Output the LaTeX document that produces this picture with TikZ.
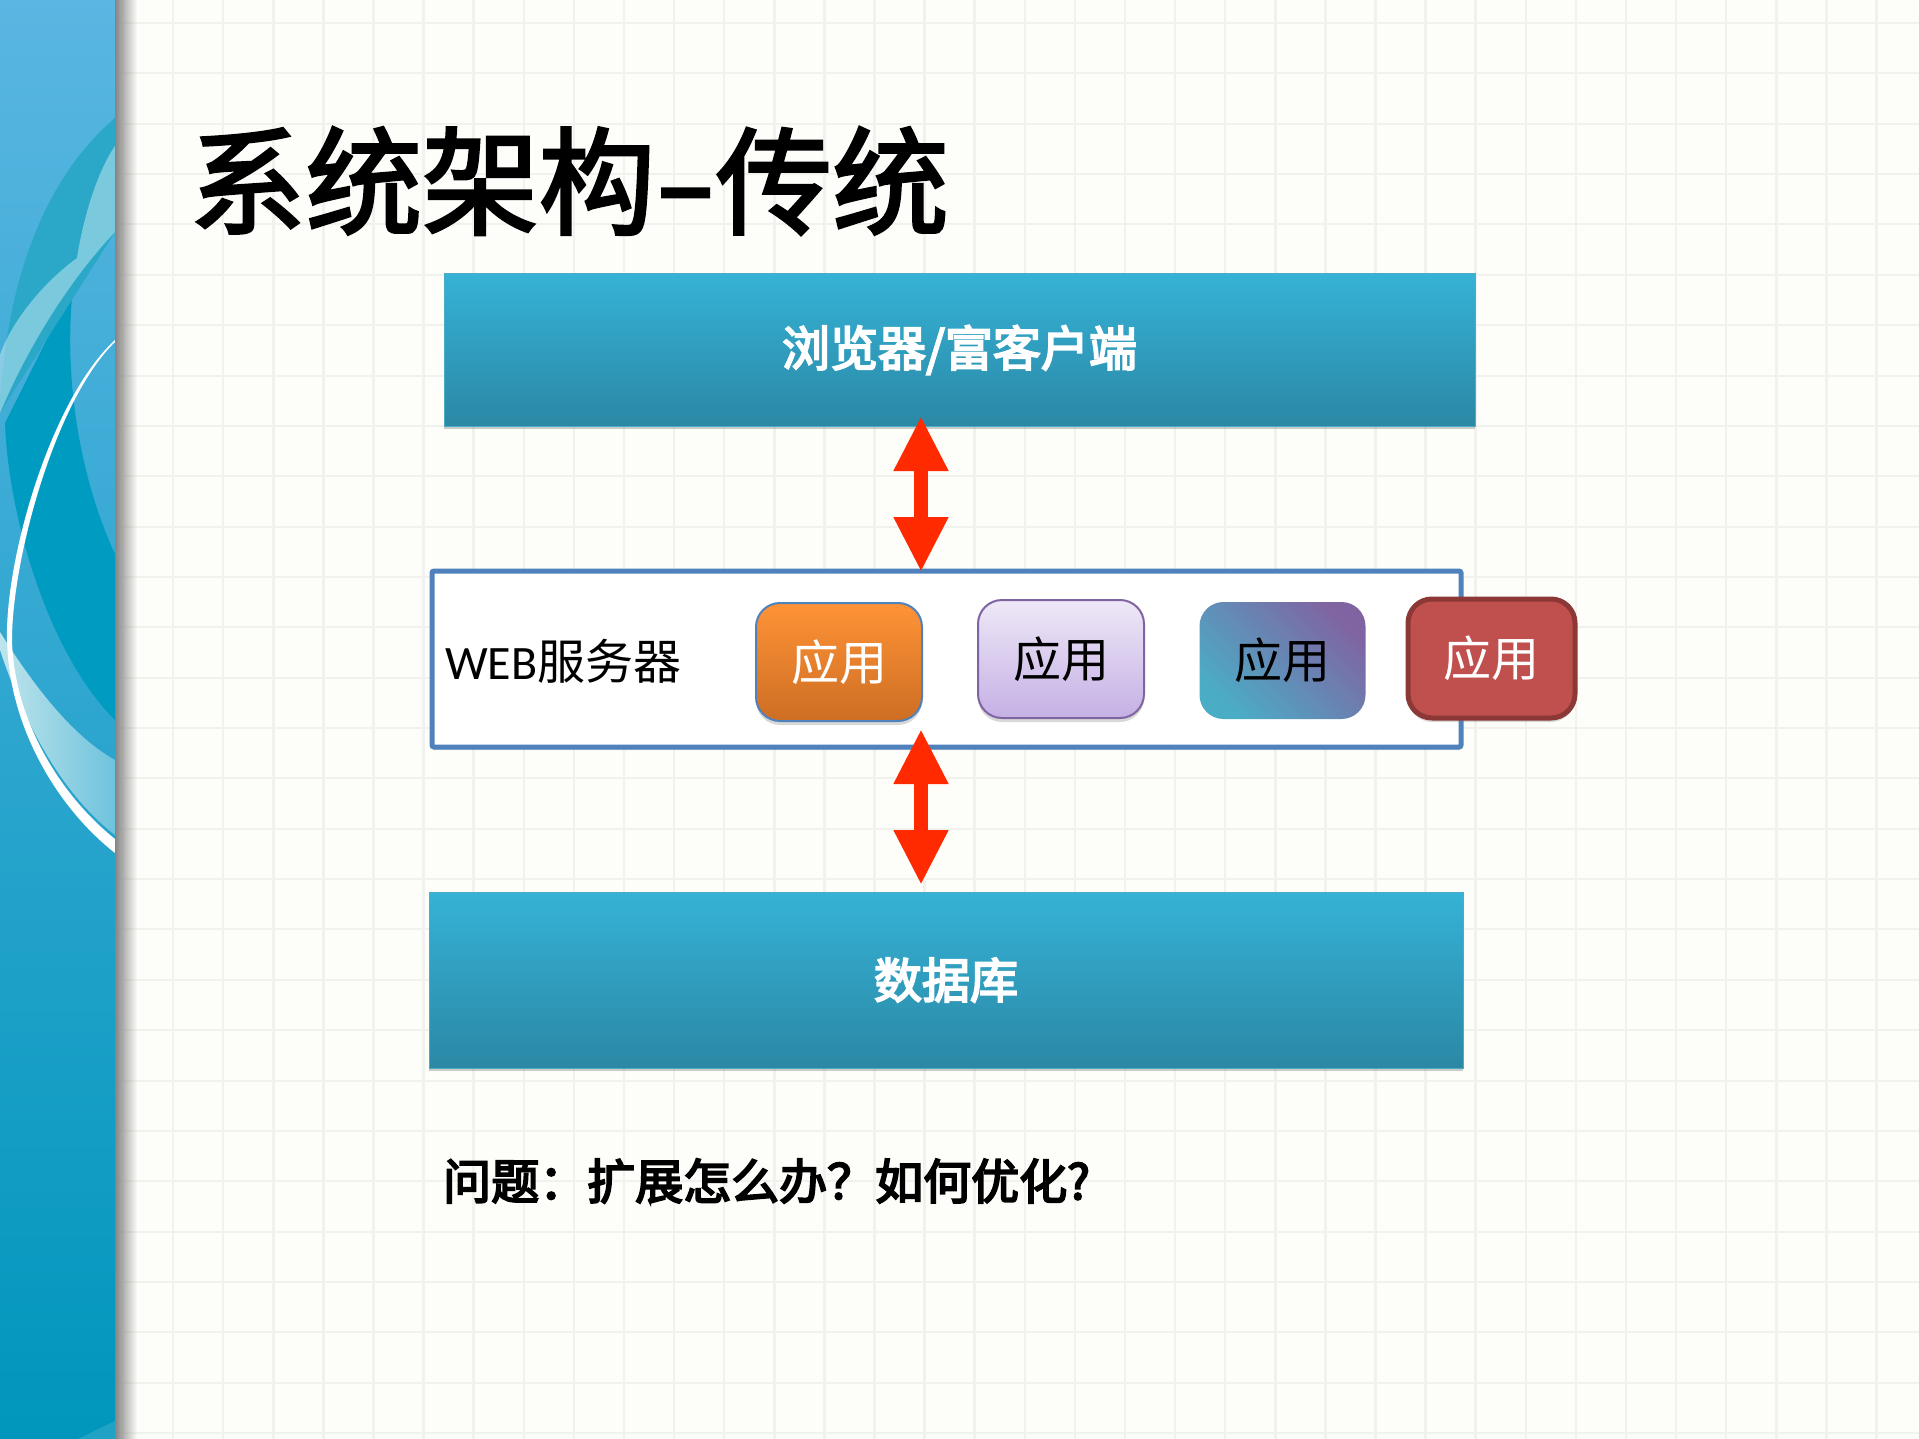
\documentclass[tikz,border=0pt]{standalone}
\usepackage{fontspec}
\setmainfont{Carlito}
\newfontfamily\cjk{Noto Sans CJK SC}
\newfontfamily\cjktitel[FakeBold=2.5]{Noto Sans CJK SC}
\newfontfamily\cjkfett[FakeBold=4]{Noto Sans CJK SC}
\usepackage{tikz}
\usetikzlibrary{arrows.meta,fadings,shadows,positioning,calc}
\definecolor{papier}{HTML}{FDFEFA}
\definecolor{gitter}{HTML}{F1F2ED}
\definecolor{leisteOben}{HTML}{5AB6E2}
\definecolor{leisteMitte}{HTML}{2FACD5}
\definecolor{leisteUnten}{HTML}{0096BC}
\definecolor{sichelDunkel}{HTML}{009BC0}
\definecolor{sichelHell}{HTML}{2BA8C8}
\definecolor{bandLinks}{HTML}{BEE4EB}
\definecolor{bandRechts}{HTML}{6EC3DD}
\definecolor{balkenOben}{HTML}{35B2D6}
\definecolor{balkenUnten}{HTML}{2B88A5}
\definecolor{balkenRand}{HTML}{4BACC6}
\definecolor{webRand}{HTML}{4F81BD}
\definecolor{pfeilRot}{HTML}{FF2A00}
\definecolor{orangeOben}{HTML}{FF9337}
\definecolor{orangeUnten}{HTML}{CD6E23}
\definecolor{lilaRand}{HTML}{8064A2}
\definecolor{lilaOben}{HTML}{EEE8F7}
\definecolor{lilaUnten}{HTML}{C5B0E5}
\definecolor{rotRand}{HTML}{8C3836}
\definecolor{rotFill}{HTML}{C0504D}
\tikzset{
  gitterlinie/.style={gitter,line width=2.5pt},
  balken/.style={draw=balkenRand,line width=1pt,top color=balkenOben,bottom color=balkenUnten,text=white,
    inner sep=0pt,outer sep=0pt,drop shadow={shadow xshift=0pt,shadow yshift=-3pt,opacity=.4},
    font=\fontsize{48}{52}\selectfont\cjkfett},
  appbox/.style={rounded corners=24pt,inner sep=0pt,outer sep=0pt,minimum height=118pt,
    font=\fontsize{48}{52}\selectfont\cjk},
  appschatten/.style={drop shadow={shadow xshift=0pt,shadow yshift=-4pt,opacity=.3}},
  doppelpfeil/.style={pfeilRot,line width=14pt,
    {Triangle[length=55pt,width=51pt]}-{Triangle[length=55pt,width=51pt]}},
}
\begin{document}
\begin{tikzpicture}[x=1pt,y=-1pt]
\useasboundingbox (0,0) rectangle (1919,1439);
%Hintergrund mit Gitter
\fill[papier] (0,0) rectangle (1919,1439);
\foreach \gx in {0,...,35}{
\draw[gitterlinie] ({123+50.1*\gx},0) -- ++(0,1439);
}
\foreach \gy in {0,...,28}{
\draw[gitterlinie,line width=2pt] (115,{23+50.36*\gy}) -- (1919,{23+50.36*\gy});
}
%Seitenleiste
\shade[top color=leisteOben,middle color=leisteMitte,bottom color=leisteUnten] (0,0) rectangle (115,1439);
\begin{scope}
\clip (0,0) rectangle (115,1439);
\fill[sichelDunkel] (5,423) .. controls (8,510) and (45,650) .. (115,720) -- (115,554) .. controls (85,490) and (62,390) .. (73,287) -- cycle;
\fill[sichelHell] (115,118) .. controls (60,165) and (10,250) .. (0,400) -- (0,413) -- (115,232) -- cycle;
\fill[white,opacity=.38] (115,146) .. controls (95,175) and (82,225) .. (77,258) .. controls (40,285) and (10,325) .. (0,355) -- (0,413) .. controls (20,365) and (60,290) .. (115,232) -- cycle;
\shade[left color=bandLinks,right color=bandRechts] (0,632) .. controls (30,680) and (70,735) .. (115,760) -- (115,835) .. controls (70,800) and (30,740) .. (0,650) -- cycle;
\fill[white] (115,340) .. controls (50,400) and (5,560) .. (7,640) .. controls (9,730) and (60,810) .. (115,853) -- (115,839) .. controls (60,795) and (14,720) .. (12,640) .. controls (12,560) and (55,400) .. (115,342) -- cycle;
\fill[white,opacity=.12] (115,1421) .. controls (100,1428) and (90,1433) .. (78,1439) -- (115,1439) -- cycle;
\end{scope}
\fill[black!48,path fading=east] (115,-60) rectangle (137,1499);
%Titel
\node[anchor=west,inner sep=0pt,font=\fontsize{116.5}{122}\selectfont\cjktitel] (titel) at (189,181) {系统架构\scalebox{1.5}[1]{-}传统};
%Balken und Server
\node[balken,minimum width=1031pt,minimum height=152pt] (browser) at (959.5,350) {浏览器/富客户端};
\node[draw=webRand,fill=white,line width=5pt,rounded corners=2pt,inner sep=0pt,outer sep=0pt,minimum width=1029pt,minimum height=176pt,
  drop shadow={shadow xshift=0pt,shadow yshift=-3pt,opacity=.25}] (webserver) at (946.5,659) {};
\node[balken,minimum width=1034pt,minimum height=176pt] (datenbank) at (946,980) {数据库};
\node[anchor=west,inner sep=0pt,font=\fontsize{48}{52}\selectfont] (weblabel) at (445,661) {WEB{\cjk 服务器}};
%Anwendungen
\node[appbox,appschatten,draw=webRand,line width=2pt,top color=orangeOben,bottom color=orangeUnten,text=white,minimum width=166pt] (app1) at (839,662) {应用};
\node[appbox,appschatten,draw=lilaRand,line width=2pt,top color=lilaOben,bottom color=lilaUnten,minimum width=166pt] (app2) at (1061,659) {应用};
\node[appbox,left color=balkenRand,right color=lilaRand,shading angle=135,minimum width=166pt,minimum height=117pt] (app3) at (1282.5,660.5) {应用};
\node[appbox,appschatten,draw=rotRand,fill=rotFill,line width=5pt,text=white,minimum width=167pt,minimum height=119pt] (app4) at (1491.5,658.5) {应用};
%Pfeile
\coordinate (pfeilx) at (921,0);
\draw[doppelpfeil,shorten <=-10pt,shorten >=-1pt] (browser.south -| pfeilx) -- (webserver.north -| pfeilx);
\draw[doppelpfeil,shorten <=-18pt,shorten >=7pt] (webserver.south -| pfeilx) -- (datenbank.north -| pfeilx);
%Frage
\node[anchor=west,inner sep=0pt,font=\fontsize{48}{52}\selectfont\cjkfett] (frage) at (443,1181) {问题：扩展怎么办？如何优化?};
\end{tikzpicture}
\end{document}
